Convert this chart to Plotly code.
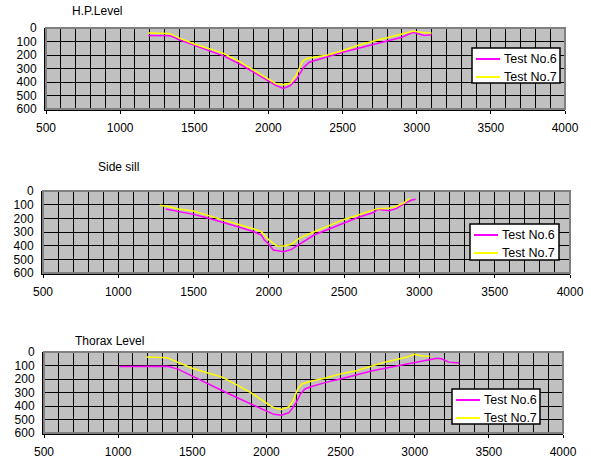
import plotly.graph_objects as go

# ---- data ----
hp6_x = [1190, 1340, 1400, 1500, 1600, 1700, 1800, 1900, 2000, 2050, 2100, 2145, 2190, 2235, 2275, 2400, 2500, 2600, 2700, 2800, 2900, 2975, 3000, 3050, 3100]
hp6_y = [55, 58, 87, 128, 167, 208, 263, 328, 390, 425, 447, 428, 380, 295, 254, 212, 180, 152, 125, 97, 68, 32, 40, 55, 50]
hp7_x = [1190, 1330, 1400, 1500, 1600, 1700, 1800, 1900, 2000, 2050, 2100, 2150, 2190, 2230, 2260, 2400, 2500, 2600, 2700, 2800, 2900, 2980, 3000, 3050, 3100]
hp7_y = [37, 40, 75, 119, 153, 190, 246, 314, 380, 412, 420, 408, 345, 246, 226, 200, 168, 130, 100, 72, 45, 22, 27, 35, 37]

ss6_x = [1315, 1400, 1500, 1600, 1700, 1800, 1900, 1950, 1970, 2000, 2030, 2100, 2150, 2200, 2250, 2300, 2400, 2500, 2600, 2700, 2720, 2800, 2850, 2900, 2950, 2975]
ss6_y = [132, 151, 171, 200, 229, 263, 298, 322, 359, 390, 432, 444, 427, 390, 359, 322, 278, 232, 190, 156, 134, 144, 127, 90, 66, 61]
ss7_x = [1275, 1340, 1400, 1500, 1600, 1700, 1800, 1900, 1950, 2000, 2050, 2100, 2150, 2200, 2250, 2300, 2400, 2500, 2600, 2700, 2720, 2800, 2850, 2900, 2935]
ss7_y = [105, 115, 132, 146, 180, 212, 249, 278, 298, 359, 400, 402, 390, 346, 322, 298, 254, 208, 174, 139, 129, 127, 110, 85, 54]

th6_x = [1010, 1330, 1400, 1500, 1600, 1700, 1800, 1900, 1950, 2000, 2050, 2100, 2150, 2170, 2200, 2230, 2260, 2300, 2400, 2500, 2600, 2700, 2800, 2900, 3000, 3100, 3150, 3180, 3230, 3300]
th6_y = [108, 105, 125, 180, 232, 285, 337, 389, 415, 440, 462, 468, 450, 425, 375, 311, 274, 257, 225, 200, 170, 142, 120, 100, 80, 62, 47, 50, 75, 82]
th7_x = [1190, 1330, 1400, 1500, 1600, 1700, 1800, 1900, 2000, 2050, 2100, 2150, 2180, 2210, 2240, 2300, 2400, 2500, 2600, 2700, 2800, 2900, 2950, 3000, 3050, 3100]
th7_y = [37, 42, 75, 120, 153, 186, 244, 305, 378, 412, 425, 407, 362, 275, 237, 217, 192, 162, 140, 107, 75, 50, 37, 17, 30, 32]

titles = ["H.P.Level", "Side sill", "Thorax Level"]
names = ["Test No.6", "Test No.7"]
colors = ["#FF00FF", "#FFFF00"]
x_ticks = [500, 1000, 1500, 2000, 2500, 3000, 3500, 4000]
y_ticks = [0, 100, 200, 300, 400, 500, 600]

W, H = 591, 461
# pixel boxes for panels: (x0, x1, ytop, ybottom)
boxes = [(46, 565, 28, 109), (43, 570, 191, 273), (44, 563, 352, 433)]
legend_boxes = [(472, 560, 48, 83), (470, 559, 224, 260), (452, 540, 389, 424)]
title_pos = [(70, 11), (96, 167), (73, 341)]

panels = [((hp6_x, hp6_y), (hp7_x, hp7_y)),
          ((ss6_x, ss6_y), (ss7_x, ss7_y)),
          ((th6_x, th6_y), (th7_x, th7_y))]

FAM = "Liberation Sans, Arial, sans-serif"
fig = go.Figure()
font = dict(family=FAM, size=12, color="black")

layout = dict(width=W, height=H, margin=dict(l=0, r=0, t=0, b=0, autoexpand=False),
              paper_bgcolor="white", plot_bgcolor="#C0C0C0", font=font, showlegend=False)


def px(x):
    return x / W


def py(y):
    return 1 - y / H


shapes = []
annotations = []
for i, (box, pdata) in enumerate(zip(boxes, panels)):
    n = "" if i == 0 else str(i + 1)
    for (xs, ys), name, c in zip(pdata, names, colors):
        fig.add_trace(go.Scatter(x=xs, y=ys, mode="lines", name=name,
                                 line=dict(color=c, width=1.5),
                                 xaxis="x" + n, yaxis="y" + n))
    x0, x1, yt, yb = box
    layout["xaxis" + n] = dict(domain=[px(x0), px(x1)], range=[500, 4000], anchor="y" + n,
                               tickvals=x_ticks, showgrid=True, gridcolor="black", gridwidth=1,
                               minor=dict(dtick=100, tick0=500, showgrid=True, gridcolor="black", gridwidth=1),
                               showline=True, linecolor="black", linewidth=2,
                               ticks="outside", ticklen=3, tickcolor="black",
                               ticklabelstandoff=4, zeroline=False, fixedrange=True, automargin=False)
    layout["yaxis" + n] = dict(domain=[py(yb), py(yt)], range=[600, 0], anchor="x" + n,
                               tickvals=y_ticks, showgrid=True, gridcolor="black", gridwidth=1,
                               showline=True, linecolor="black", linewidth=2,
                               ticks="", ticklabelstandoff=5, zeroline=False, fixedrange=True, automargin=False)
    shapes.append(dict(type="rect", xref="paper", yref="paper",
                       x0=px(x0), x1=px(x1), y0=py(yb), y1=py(yt),
                       line=dict(color="#808080", width=2), layer="above"))
    # legend box (drawn like the original's small framed legend)
    lx0, lx1, ly0, ly1 = legend_boxes[i]
    shapes.append(dict(type="rect", xref="paper", yref="paper",
                       x0=px(lx0), x1=px(lx1), y0=py(ly1), y1=py(ly0),
                       fillcolor="white", line=dict(color="black", width=1.5), layer="above"))
    for k, (name, c) in enumerate(zip(names, colors)):
        yy = ly0 + 11 + 18 * k
        shapes.append(dict(type="line", xref="paper", yref="paper",
                           x0=px(lx0 + 4), x1=px(lx0 + 28), y0=py(yy), y1=py(yy),
                           line=dict(color=c, width=2), layer="above"))
        annotations.append(dict(text=name, x=px(lx0 + 30), y=py(yy), xref="paper", yref="paper",
                                xanchor="left", yanchor="middle", showarrow=False,
                                font=dict(family=FAM, size=12.5, color="black")))
    tx, ty = title_pos[i]
    annotations.append(dict(text=titles[i], x=px(tx), y=py(ty), xref="paper", yref="paper",
                            xanchor="left", yanchor="middle", showarrow=False,
                            font=dict(family=FAM, size=12, color="black")))

layout["shapes"] = shapes
layout["annotations"] = annotations
fig.update_layout(**layout)
fig.write_html("out.html", config={"displayModeBar": False},
               post_script="document.body.style.margin='0';document.body.style.padding='0';document.body.style.overflow='hidden';")
